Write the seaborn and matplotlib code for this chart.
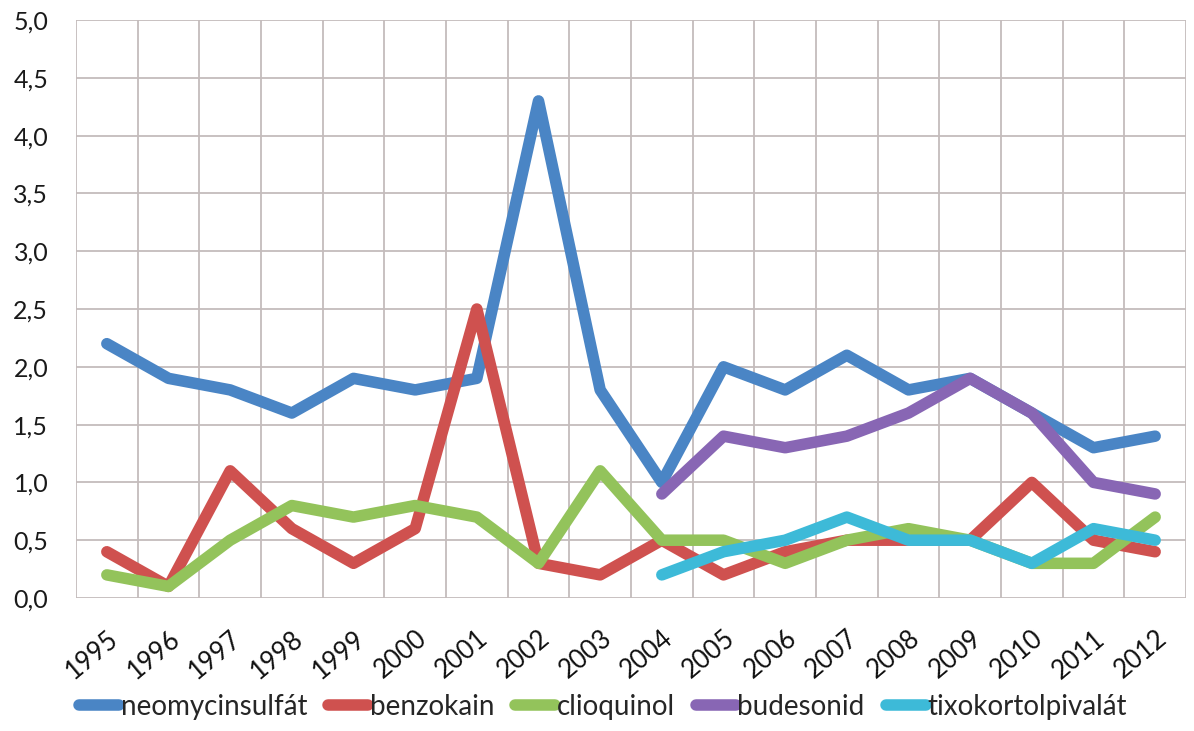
import numpy as np
import pandas as pd
import matplotlib
matplotlib.use("Agg")
import matplotlib.pyplot as plt
import seaborn as sns
from matplotlib.lines import Line2D

years = ["1995", "1996", "1997", "1998", "1999", "2000", "2001", "2002", "2003",
         "2004", "2005", "2006", "2007", "2008", "2009", "2010", "2011", "2012"]
nan = np.nan
neomycinsulfat = [2.2, 1.9, 1.8, 1.6, 1.9, 1.8, 1.9, 4.3, 1.8, 1.0, 2.0, 1.8, 2.1, 1.8, 1.9, 1.6, 1.3, 1.4]
benzokain = [0.4, 0.1, 1.1, 0.6, 0.3, 0.6, 2.5, 0.3, 0.2, 0.5, 0.2, 0.4, 0.5, 0.5, 0.5, 1.0, 0.5, 0.4]
clioquinol = [0.2, 0.1, 0.5, 0.8, 0.7, 0.8, 0.7, 0.3, 1.1, 0.5, 0.5, 0.3, 0.5, 0.6, 0.5, 0.3, 0.3, 0.7]
budesonid = [nan] * 9 + [0.9, 1.4, 1.3, 1.4, 1.6, 1.9, 1.6, 1.0, 0.9]
tixokortolpivalat = [nan] * 9 + [0.2, 0.4, 0.5, 0.7, 0.5, 0.5, 0.3, 0.6, 0.5]

series_names = ["neomycinsulfát", "benzokain", "clioquinol", "budesonid", "tixokortolpivalát"]
series_values = [neomycinsulfat, benzokain, clioquinol, budesonid, tixokortolpivalat]
colors = ["#4a85c5", "#cf514f", "#93c35b", "#8866b4", "#3dbad8"]
yticks = [0.0, 0.5, 1.0, 1.5, 2.0, 2.5, 3.0, 3.5, 4.0, 4.5, 5.0]

rows = []
for name, vals in zip(series_names, series_values):
    for i, v in enumerate(vals):
        if not np.isnan(v):
            rows.append({"pos": i, "year": years[i], "value": v, "series": name})
df = pd.DataFrame(rows)

sns.set_theme(style="white")
plt.rcParams["font.family"] = ["Lato", "DejaVu Sans"]

fig = plt.figure(figsize=(11.94, 7.31), dpi=100)
ax = fig.add_axes([76 / 1194, 1 - 598 / 731, (1186 - 76) / 1194, (598 - 20) / 731])

sns.lineplot(data=df, x="pos", y="value", hue="series", hue_order=series_names,
             palette=colors, linewidth=8.3, ax=ax, legend=False, sort=True,
             estimator=None)
for ln in ax.get_lines():
    ln.set_solid_capstyle("round")
    ln.set_solid_joinstyle("round")

ax.set_xlim(-0.5, len(years) - 0.5)
ax.set_ylim(0, 5)
ax.set_yticks(yticks)
ax.set_yticklabels([f"{t:.1f}".replace(".", ",") for t in yticks], fontsize=18, color="#1a1a1a")
ax.set_xticks(range(len(years)))
ax.set_xticks(np.arange(-0.5, len(years), 1.0), minor=True)
ax.set_xticklabels(years, rotation=40, ha="right", rotation_mode="anchor",
                   fontsize=18.5, color="#111111")
ax.tick_params(axis="x", which="major", length=0, pad=20)
ax.tick_params(axis="x", which="minor", length=8, color="#bdb3b3", width=1.3)
ax.tick_params(axis="y", length=0, pad=20)
ax.grid(True, axis="y", color="#c4bcbc", linewidth=1.3)
ax.grid(True, axis="x", which="minor", color="#c4bcbc", linewidth=1.3)
ax.grid(False, axis="x", which="major")
for s in ax.spines.values():
    s.set_visible(False)
ax.set_xlabel("")
ax.set_ylabel("")
ax.set_axisbelow(True)

handles = [Line2D([0], [0], color=c, linewidth=8.3, solid_capstyle="round") for c in colors]
fig.legend(handles, series_names, loc="center", bbox_to_anchor=(0.505, 1 - 707 / 731),
           ncol=5, frameon=False, handlelength=1.45, handletextpad=0.05, columnspacing=0.75,
           prop={"size": 20})

fig.savefig("out.png", dpi=100)
